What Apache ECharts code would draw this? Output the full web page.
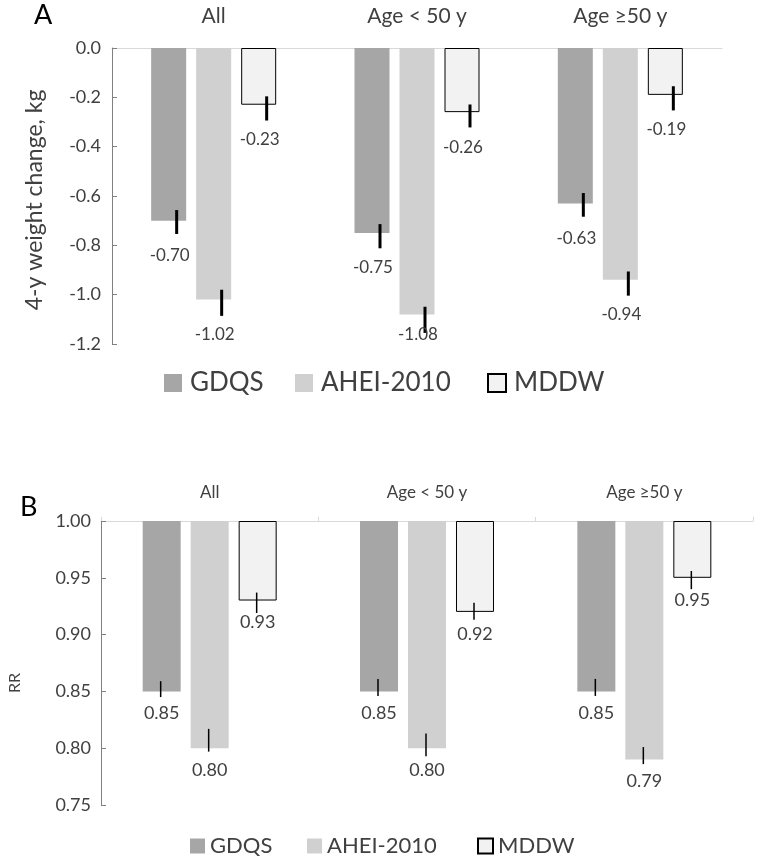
<!DOCTYPE html>
<html>
<head>
<meta charset="utf-8">
<script src="https://cdn.jsdelivr.net/npm/echarts@6/dist/echarts.min.js"></script>
<style>html,body{margin:0;padding:0;background:#fff}#c{width:757px;height:864px}</style>
</head>
<body>
<div id="c"></div>
<script>
// ---------- data ----------
const categories = ['All', 'Age < 50 y', 'Age \u226550 y'];
const seriesNames = ['GDQS', 'AHEI-2010', 'MDDW'];

// Panel A: 4-y weight change, kg
const weightGDQS = [-0.70, -0.75, -0.63];
const weightAHEI = [-1.02, -1.08, -0.94];
const weightMDDW = [-0.23, -0.26, -0.19];
const weightGDQSErr = [[-0.754, -0.657], [-0.812, -0.714], [-0.684, -0.588]];
const weightAHEIErr = [[-1.086, -0.980], [-1.155, -1.049], [-1.004, -0.906]];
const weightMDDWErr = [[-0.294, -0.196], [-0.322, -0.229], [-0.253, -0.155]];
const weightTicks = [0.0, -0.2, -0.4, -0.6, -0.8, -1.0, -1.2];

// Panel B: RR
const rrGDQS = [0.85, 0.85, 0.85];
const rrAHEI = [0.80, 0.80, 0.79];
const rrMDDW = [0.93, 0.92, 0.95];
const rrGDQSErr = [[0.845, 0.859], [0.846, 0.861], [0.846, 0.861]];
const rrAHEIErr = [[0.797, 0.817], [0.793, 0.813], [0.786, 0.801]];
const rrMDDWErr = [[0.919, 0.937], [0.913, 0.928], [0.940, 0.956]];
const rrTicks = [1.00, 0.95, 0.90, 0.85, 0.80, 0.75];
const rrRef = 1.00;

// ---------- styles ----------
const FONT = 'Lato, "Open Sans", "Noto Sans", sans-serif';
const TXT = '#404040';
const colors = ['#a6a6a6', '#d0d0d0', '#f2f2f2'];
const borders = [null, null, '#000000'];

const weightVals = [weightGDQS, weightAHEI, weightMDDW];
const weightErrs = [weightGDQSErr, weightAHEIErr, weightMDDWErr];
const rrVals = [rrGDQS, rrAHEI, rrMDDW];
const rrErrs = [rrGDQSErr, rrAHEIErr, rrMDDWErr];

function errData(vals, errs) {
  const out = [];
  vals.forEach((arr, s) => arr.forEach((v, i) => out.push([i, v, errs[s][i][0], errs[s][i][1], s])));
  return out;
}

function makeErrRender(cfg) {
  return function (params, api) {
    const cat = api.value(0), val = api.value(1), lo = api.value(2), hi = api.value(3), slot = api.value(4);
    const c = api.coord([cat, val]);
    const x = c[0] + (slot - 1) * cfg.step;
    const pLo = api.coord([cat, lo]);
    const pHi = api.coord([cat, hi]);
    const cs = params.coordSys;
    let ly = c[1] + cfg.labelDy;
    const maxY = cs.y + cs.height - cfg.clamp;
    if (ly > maxY) ly = maxY;
    return {
      type: 'group',
      children: [
        { type: 'line', shape: { x1: x + cfg.errDx, y1: pLo[1], x2: x + cfg.errDx, y2: pHi[1] },
          style: { stroke: '#000', lineWidth: cfg.lw } },
        { type: 'text', style: { text: val.toFixed(2), x: x + cfg.labelDx, y: ly, align: 'center', verticalAlign: 'middle',
          fontSize: cfg.fs, fontFamily: FONT, fill: TXT } }
      ]
    };
  };
}

const series = [];
// Panel A bars
weightVals.forEach((arr, s) => {
  series.push({
    name: seriesNames[s], type: 'bar', xAxisIndex: 0, yAxisIndex: 0,
    data: arr, barWidth: 35, barGap: '28.6%',
    itemStyle: { color: colors[s], borderColor: borders[s] || colors[s], borderWidth: borders[s] ? 1 : 0 },
    emphasis: { disabled: true }
  });
});
// Panel B bars: invisible base + visible segment up to the reference line 1.00
rrVals.forEach((arr, s) => {
  series.push({
    name: '_base' + s, type: 'bar', xAxisIndex: 1, yAxisIndex: 1, stack: 'st' + s,
    data: arr, barWidth: 38, barGap: '26.3%', silent: true,
    itemStyle: { color: 'rgba(0,0,0,0)' }, emphasis: { disabled: true }
  });
  series.push({
    name: seriesNames[s], type: 'bar', xAxisIndex: 1, yAxisIndex: 1, stack: 'st' + s,
    data: arr.map(v => +(rrRef - v).toFixed(4)), barWidth: 38, barGap: '26.3%',
    itemStyle: { color: colors[s], borderColor: borders[s] || colors[s], borderWidth: borders[s] ? 1 : 0 },
    emphasis: { disabled: true }
  });
});
series.push({
  name: 'errA', type: 'custom', xAxisIndex: 0, yAxisIndex: 0, z: 5, clip: false,
  data: errData(weightVals, weightErrs),
  renderItem: makeErrRender({ step: 45, errDx: 8, lw: 3, labelDy: 35, labelDx: 1, clamp: 9, fs: 17 })
});
series.push({
  name: 'errB', type: 'custom', xAxisIndex: 1, yAxisIndex: 1, z: 5, clip: false,
  data: errData(rrVals, rrErrs),
  renderItem: makeErrRender({ step: 48, errDx: -1, lw: 1.5, labelDy: 22, labelDx: 0, clamp: 0, fs: 18 })
});

// one legend component per item so each entry sits where the original places it
const legendA = { lefts: [164, 295, 487], top: 370, size: 18, fs: 26, pad: 3 };
const legendB = { lefts: [190, 307, 477], top: 835, size: 15, fs: 22, pad: 0 };
const legends = [];
[legendA, legendB].forEach(L => {
  seriesNames.forEach((n, i) => {
    legends.push({ data: [n], left: L.lefts[i], top: L.top, icon: 'rect', itemWidth: L.size, itemHeight: L.size,
      selectedMode: false, padding: 0,
      textStyle: { fontSize: L.fs, color: TXT, fontFamily: FONT, padding: [0, 0, 0, L.pad] } });
  });
});

const option = {
  animation: false,
  backgroundColor: '#ffffff',
  textStyle: { fontFamily: FONT },
  grid: [
    { left: 112, top: 48, width: 610, height: 296 },
    { left: 101, top: 521, width: 652, height: 284 }
  ],
  legend: legends,
  xAxis: [
    { type: 'category', gridIndex: 0, data: categories, position: 'top',
      axisLine: { lineStyle: { color: '#d9d9d9', width: 1 } }, axisTick: { show: false },
      axisLabel: { color: TXT, fontSize: 21, margin: 21, fontFamily: FONT } },
    { type: 'category', gridIndex: 1, data: categories, position: 'top',
      axisLine: { lineStyle: { color: '#d9d9d9', width: 1 } },
      axisTick: { show: true, length: 4, lineStyle: { color: '#d9d9d9' } },
      axisLabel: { color: TXT, fontSize: 17, margin: 20, fontFamily: FONT } }
  ],
  yAxis: [
    { type: 'value', gridIndex: 0, min: weightTicks[weightTicks.length - 1], max: weightTicks[0], interval: 0.2,
      axisLine: { show: true, lineStyle: { color: '#808080' } },
      axisTick: { show: true, inside: true, length: 5, lineStyle: { color: '#808080' } },
      splitLine: { show: false },
      axisLabel: { color: TXT, fontSize: 18, margin: 11, fontFamily: FONT, formatter: v => v.toFixed(1) } },
    { type: 'value', gridIndex: 1, min: rrTicks[rrTicks.length - 1], max: rrTicks[0], interval: 0.05,
      axisLine: { show: true, lineStyle: { color: '#808080' } },
      axisTick: { show: true, inside: true, length: 5, lineStyle: { color: '#808080' } },
      splitLine: { show: false },
      axisLabel: { color: TXT, fontSize: 18, margin: 10, fontFamily: FONT, formatter: v => v.toFixed(2) } }
  ],
  graphic: [
    { type: 'text', left: 34, top: 2, style: { text: 'A', fontSize: 27, fontFamily: FONT, fill: '#000' } },
    { type: 'text', left: 20, top: 494, style: { text: 'B', fontSize: 27, fontFamily: FONT, fill: '#000' } },
    { type: 'text', x: 35, y: 200, rotation: Math.PI / 2,
      style: { text: '4-y weight change, kg', fontSize: 23, fontFamily: FONT, fill: TXT, align: 'center', verticalAlign: 'middle' } },
    { type: 'text', x: 15, y: 683, rotation: Math.PI / 2,
      style: { text: 'RR', fontSize: 16, fontFamily: FONT, fill: TXT, align: 'center', verticalAlign: 'middle' } }
  ],
  series: series
};

const chart = echarts.init(document.getElementById('c'), null, { renderer: 'canvas' });
chart.setOption(option);
</script>
</body>
</html>
